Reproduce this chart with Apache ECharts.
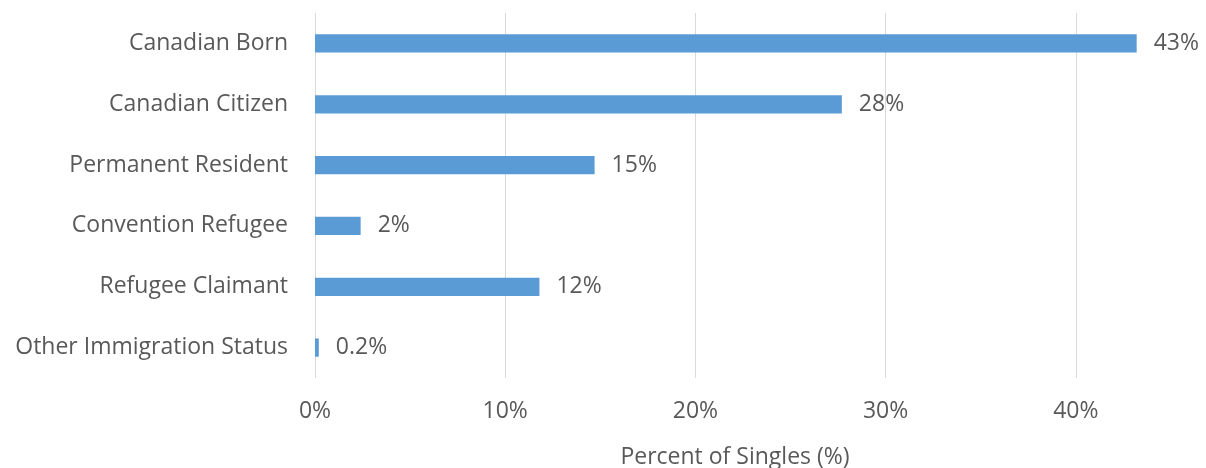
<!DOCTYPE html>
<html>
<head>
<meta charset="utf-8">
<script src="https://cdn.jsdelivr.net/npm/echarts@6/dist/echarts.min.js"></script>
<style>
  html, body { margin: 0; padding: 0; background: #fff; }
  #chart { width: 1206px; height: 468px; }
</style>
</head>
<body>
<div id="chart"></div>
<script>
// categories, top to bottom
const categories = [
  "Canadian Born",
  "Canadian Citizen",
  "Permanent Resident",
  "Convention Refugee",
  "Refugee Claimant",
  "Other Immigration Status",
];
// percent of singles
const values = [43.2, 27.7, 14.7, 2.4, 11.8, 0.2];
// labels as printed next to the bars
const valueLabels = ["43%", "28%", "15%", "2%", "12%", "0.2%"];
const xTicks = [0, 10, 20, 30, 40, 50];

const textColor = "#595959";
const fontFamily = "'Open Sans', 'Noto Sans', sans-serif";
const fontSize = 23;

const chart = echarts.init(document.getElementById("chart"));
chart.setOption({
  animation: false,
  textStyle: { fontFamily: fontFamily },
  grid: {
    left: 315,
    width: 951, // 50% line falls just outside the picture
    top: 13,
    height: 365,
    outerBoundsMode: "none",
    containLabel: false,
  },
  xAxis: {
    type: "value",
    min: xTicks[0],
    max: xTicks[xTicks.length - 1],
    interval: 10,
    axisLine: { show: false },
    axisTick: { show: false },
    axisLabel: {
      color: textColor,
      fontSize: fontSize,
      margin: 22,
      formatter: (v) => v + "%",
    },
    splitLine: { lineStyle: { color: "#d9d9d9", width: 1 } },
  },
  yAxis: {
    type: "category",
    inverse: true,
    data: categories,
    axisLine: { show: false },
    axisTick: { show: false },
    axisLabel: {
      color: textColor,
      fontSize: fontSize,
      margin: 27,
    },
  },
  series: [
    {
      type: "bar",
      data: values,
      barWidth: "30%",
      itemStyle: { color: "#5b9bd5" },
      label: {
        show: true,
        position: "right",
        distance: 17,
        color: textColor,
        fontSize: fontSize,
        formatter: (p) => valueLabels[p.dataIndex],
      },
    },
  ],
  graphic: [
    {
      type: "text",
      x: 735,
      y: 457,
      style: {
        text: "Percent of Singles (%)",
        fill: textColor,
        fontSize: fontSize,
        fontFamily: fontFamily,
        align: "center",
        verticalAlign: "middle",
      },
    },
  ],
});
</script>
</body>
</html>
